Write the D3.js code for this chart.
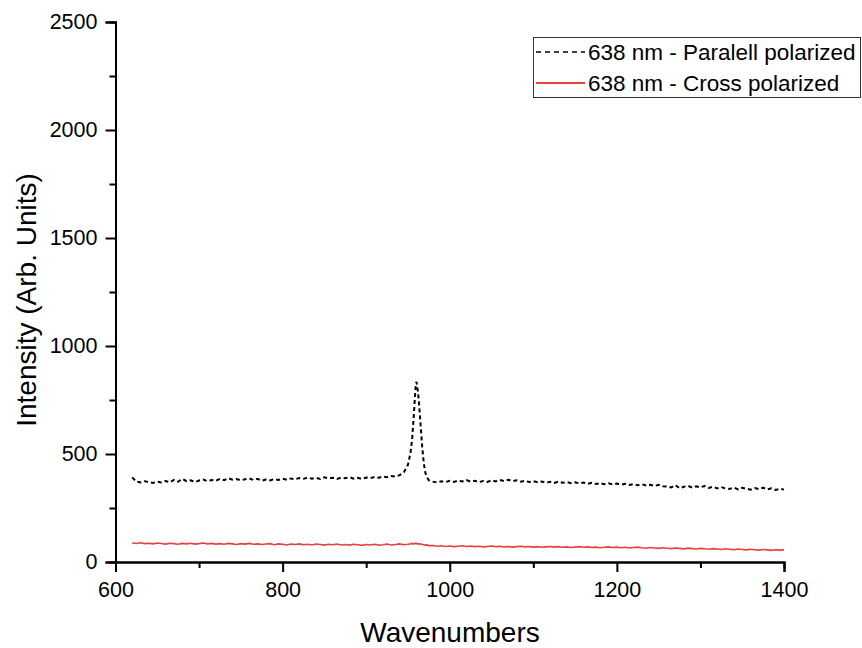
<!DOCTYPE html>
<html>
<head>
<meta charset="utf-8">
<script src="https://cdn.jsdelivr.net/npm/d3@7"></script>
<style>
  html, body { margin: 0; padding: 0; background: #fff; }
  svg { display: block; font-family: Arial, "Liberation Sans", sans-serif; }
</style>
</head>
<body>
<svg id="chart" width="862" height="648"></svg>
<script>
// ---------- data ----------
const wavenumbers = [
  620,625,630,635,640,645,650,655,660,665,670,675,680,685,690,695,700,705,710,715,
  720,725,730,735,740,745,750,755,760,765,770,775,780,785,790,795,800,805,810,815,
  820,825,830,835,840,845,850,855,860,865,870,875,880,885,890,895,900,905,910,915,
  920,925,930,935,940,945,950,
  953,955,957,959,960,961,963,965,967,969,971,973,975,
  980,985,990,995,1000,1005,1010,1015,1020,1025,1030,1035,1040,1045,1050,1055,1060,1065,1070,1075,
  1080,1085,1090,1095,1100,1105,1110,1115,1120,1125,1130,1135,1140,1145,1150,1155,1160,1165,1170,1175,
  1180,1185,1190,1195,1200,1205,1210,1215,1220,1225,1230,1235,1240,1245,1250,1255,1260,1265,1270,1275,
  1280,1285,1290,1295,1300,1305,1310,1315,1320,1325,1330,1335,1340,1345,1350,1355,1360,1365,1370,1375,
  1380,1385,1390,1395,1400
];
const parallelIntensity = [
  392,372,368,374,370,366,372,368,375,369,380,372,385,374,378,370,377,382,374,380,
  376,385,379,388,381,384,378,383,387,380,385,376,382,378,384,380,386,381,387,383,
  389,385,391,386,390,384,392,387,390,385,391,388,393,386,390,384,391,388,394,390,
  396,392,398,395,402,415,450,
  505,570,680,805,834,820,745,640,535,455,410,390,378,
  372,368,374,370,376,371,377,373,379,372,376,370,375,371,378,373,380,375,381,374,
  378,372,376,370,374,369,373,367,371,366,372,367,370,365,369,364,368,362,367,361,
  365,360,364,359,363,358,362,357,361,355,360,354,358,352,357,351,350,345,356,342,
  348,353,344,350,346,352,343,349,341,347,340,338,345,336,344,339,335,342,337,344,
  336,341,334,339,335
];
const crossIntensity = [
  88,86,89,85,87,84,88,86,83,87,85,82,86,84,87,83,85,88,84,86,
  83,85,82,86,84,81,85,83,86,82,84,81,83,85,80,84,82,79,83,81,
  84,80,82,79,83,81,78,82,80,83,79,81,78,82,80,77,81,79,82,78,
  80,83,79,81,84,80,82,
  84,86,83,87,85,86,83,84,81,80,78,79,76,
  76,73,75,72,74,71,73,75,72,74,71,73,70,72,74,71,73,70,72,69,
  71,73,70,72,69,71,68,70,72,69,71,68,70,67,69,71,68,70,67,69,
  66,68,70,67,69,66,68,65,67,69,66,64,67,65,63,66,64,62,65,63,
  61,64,62,60,63,61,59,62,60,58,61,59,57,60,58,56,59,57,55,58,
  56,54,57,55,56
];
const seriesNames = ["638 nm - Paralell polarized", "638 nm - Cross polarized"];
const xTicks = [600, 800, 1000, 1200, 1400];
const xMinorTicks = [700, 900, 1100, 1300];
const yTicks = [0, 500, 1000, 1500, 2000, 2500];
const yMinorTicks = [250, 750, 1250, 1750, 2250];
const xTitle = "Wavenumbers";
const yTitle = "Intensity (Arb. Units)";

// ---------- layout ----------
const svg = d3.select("#chart");
const plotLeft = 115.5, plotRight = 784, plotTop = 22, plotBottom = 562;
const x = d3.scaleLinear().domain([600, 1400]).range([plotLeft, plotRight]);
const y = d3.scaleLinear().domain([0, 2500]).range([plotBottom, plotTop]);

const tickFont = 21.5;

const gx = svg.append("g").attr("transform", `translate(0,${plotBottom})`);
gx.call(d3.axisBottom(x).tickValues(xMinorTicks).tickSize(6).tickFormat(""));
gx.append("g").call(d3.axisBottom(x).tickValues(xTicks).tickSize(10).tickPadding(10).tickFormat(d3.format("d")));
const gy = svg.append("g").attr("transform", `translate(${plotLeft},0)`);
gy.call(d3.axisLeft(y).tickValues(yMinorTicks).tickSize(6).tickFormat(""));
gy.append("g").call(d3.axisLeft(y).tickValues(yTicks).tickSize(10).tickPadding(8).tickFormat(d3.format("d")));

svg.selectAll(".domain").attr("stroke", "#000").attr("stroke-width", 2);
svg.selectAll(".tick line").attr("stroke", "#000").attr("stroke-width", 2);
svg.selectAll(".tick text").attr("font-size", tickFont).attr("fill", "#000")
   .attr("font-family", "Arial, 'Liberation Sans', sans-serif");

svg.append("text").attr("x", 450).attr("y", 642)
  .attr("text-anchor", "middle").attr("font-size", 28).attr("fill", "#000").text(xTitle);
svg.append("text").attr("transform", `translate(36,300) rotate(-90)`)
  .attr("text-anchor", "middle").attr("font-size", 28).attr("fill", "#000").text(yTitle);

const parallelData = wavenumbers.map((w, i) => [w, parallelIntensity[i]]);
const crossData = wavenumbers.map((w, i) => [w, crossIntensity[i]]);
const line = d3.line().x(d => x(d[0])).y(d => y(d[1]));

svg.append("path").datum(crossData).attr("d", line)
  .attr("fill", "none").attr("stroke", "#e8403f").attr("stroke-width", 1.6);
svg.append("path").datum(parallelData).attr("d", line)
  .attr("fill", "none").attr("stroke", "#000").attr("stroke-width", 2)
  .attr("stroke-dasharray", "4,3");

const lg = svg.append("g");
lg.append("rect").attr("x", 533.5).attr("y", 37.5).attr("width", 327).attr("height", 60)
  .attr("fill", "#fff").attr("stroke", "#333").attr("stroke-width", 1);
const legendStyles = [
  { stroke: "#000", dash: "5,4", width: 1.6 },
  { stroke: "#e8403f", dash: null, width: 2 }
];
seriesNames.forEach((name, i) => {
  const cy = 52 + i * 31;
  lg.append("line").attr("x1", 536).attr("x2", 585).attr("y1", cy).attr("y2", cy)
    .attr("stroke", legendStyles[i].stroke).attr("stroke-width", legendStyles[i].width)
    .attr("stroke-dasharray", legendStyles[i].dash);
  lg.append("text").attr("x", 588).attr("y", cy + 7.5).attr("font-size", 22.5)
    .attr("fill", "#000").text(name);
});
</script>
</body>
</html>
